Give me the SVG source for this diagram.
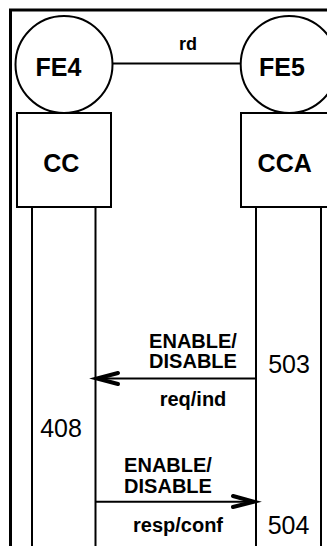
<svg xmlns="http://www.w3.org/2000/svg" width="327" height="546" viewBox="0 0 327 546">
<style>
.ln{fill:none;stroke:#000;stroke-width:2}
.b{font-family:"Liberation Sans",Arial,sans-serif;font-weight:bold;fill:#000}
.r{font-family:"Liberation Sans",Arial,sans-serif;fill:#000}
.ah{fill:none;stroke:#000;stroke-width:4;stroke-linejoin:miter;stroke-linecap:round}
</style>
<rect x="0" y="0" width="327" height="546" fill="#fff"/>
<g id="frame"><path d="M10.5 560 V10 H340" fill="none" stroke="#000" stroke-width="3"/></g>
<g id="FE4"><circle class="ln" cx="64" cy="64.5" r="48.5" fill="#fff"/><text class="b" x="58.5" y="76" font-size="25" text-anchor="middle">FE4</text></g>
<g id="FE5"><circle class="ln" cx="289.2" cy="64.5" r="48.5" fill="#fff"/><text class="b" x="282" y="76" font-size="25" text-anchor="middle">FE5</text></g>
<g id="CC"><rect class="ln" x="17" y="113" width="94" height="94"/><text class="b" x="61.3" y="171.5" font-size="25" text-anchor="middle">CC</text></g>
<g id="CCA"><rect class="ln" x="241" y="113" width="94" height="94"/><text class="b" x="284.7" y="171.5" font-size="25" text-anchor="middle">CCA</text></g>
<g id="lifelines">
<line class="ln" x1="32" y1="207" x2="32" y2="546"/>
<line class="ln" x1="95.5" y1="207" x2="95.5" y2="546"/>
<line class="ln" x1="256" y1="207" x2="256" y2="546"/>
<line class="ln" x1="321" y1="207" x2="321" y2="546"/>
</g>
<g id="connectors">
<line class="ln" x1="112.5" y1="63.5" x2="240.7" y2="63.5"/>
<text class="b" x="188" y="50" font-size="18" text-anchor="middle">rd</text>
<line class="ln" x1="256" y1="378.5" x2="97" y2="378.5"/>
<path class="ah" d="M118 373 L97 378.5 L118 384"/>
<text class="b" x="193" y="347.7" font-size="20" text-anchor="middle">ENABLE/</text>
<text class="b" x="193" y="367.7" font-size="20" text-anchor="middle">DISABLE</text>
<text class="b" x="193" y="406" font-size="20" text-anchor="middle">req/ind</text>
<line class="ln" x1="95.5" y1="501.7" x2="254" y2="501.7"/>
<path class="ah" d="M233 496 L254 501.7 L233 507"/>
<text class="b" x="168" y="471.7" font-size="20" text-anchor="middle">ENABLE/</text>
<text class="b" x="168" y="492.7" font-size="20" text-anchor="middle">DISABLE</text>
<text class="b" x="178" y="531.5" font-size="20" text-anchor="middle">resp/conf</text>
</g>
<g id="labels">
<text class="r" x="289" y="373" font-size="25" text-anchor="middle">503</text>
<text class="r" x="61" y="437" font-size="25" text-anchor="middle">408</text>
<text class="r" x="288.5" y="534" font-size="25" text-anchor="middle">504</text>
</g>
</svg>
